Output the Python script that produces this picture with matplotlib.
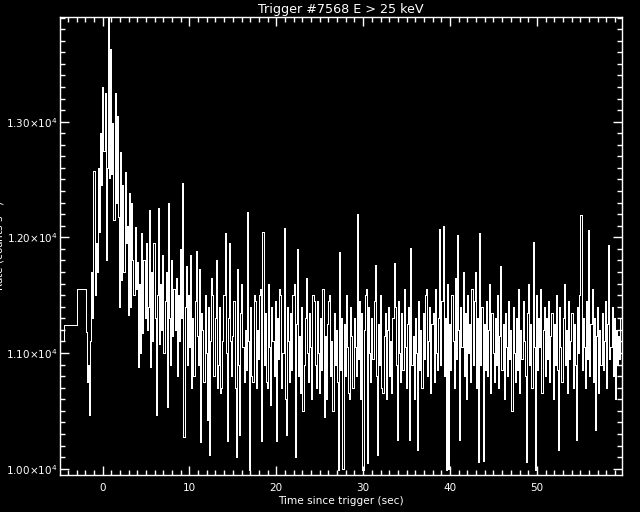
import numpy as np
import matplotlib
matplotlib.use('Agg')
import matplotlib.pyplot as plt
from matplotlib.ticker import MultipleLocator, FuncFormatter

# pre-trigger coarse bins (edges in sec, rates in counts/s)
coarse_edges = [-5.47, -4.45, -2.92, -1.95]
coarse_rates = [11105, 11245, 11555]

# post-trigger bins, 0.128 s each, starting at -1.95 s (one row = 1.024 s)
fine_start = -1.95
fine_width = 0.128
fine_rates = [
    11180, 10750, 10900, 10460, 11100, 11700, 11300, 12570,
    11500, 11950, 11700, 12600, 12050, 12900, 12450, 13300,
    12750, 13250, 11800, 12600, 13905, 12510, 13630, 12550,
    12990, 12150, 13250, 12300, 13050, 12180, 11400, 12740,
    11630, 12450, 11700, 12565, 11950, 12100, 11330, 12380,
    11400, 12300, 11800, 11500, 12090, 11550, 11790, 10880,
    11600, 11000, 12035, 11170, 11800, 11300, 11950, 11200,
    11400, 12236, 10880, 11700, 11100, 11950, 11300, 10460,
    11500, 12250, 11080, 11600, 11200, 11850, 11000, 11450,
    11700, 10530, 12300, 11300, 10900, 11800, 11150, 11550,
    11200, 11650, 10800, 11500, 11100, 11900, 11300, 12470,
    10270, 11400, 11750, 10900, 11500, 11050, 11850, 10700,
    11300, 10800, 11450, 11880, 11150, 10900, 11730, 10230,
    11350, 11200, 10750, 11500, 11000, 10420, 11400, 10115,
    11100, 11650, 11500, 10800, 11300, 11800, 10700, 10900,
    11400, 10650, 10700, 11100, 11500, 12040, 11000, 10240,
    11300, 11950, 11100, 10800, 11150, 11450, 10700, 10100,
    11730, 10900, 10290, 11350, 11600, 11050, 10750, 11200,
    10850, 12220, 11100, 9990, 11400, 10800, 10750, 11500,
    11450, 10700, 11200, 10950, 11500, 11550, 10240, 12050,
    10900, 11350, 10750, 10700, 11600, 11050, 10550, 11400,
    11100, 10800, 11450, 10240, 11300, 10950, 11550, 11500,
    10700, 11000, 12080, 10600, 10290, 11400, 11100, 10750,
    11350, 10850, 11500, 11600, 10100, 11250, 11900, 10800,
    11150, 10650, 11400, 10500, 10900, 11300, 11650, 11000,
    10750, 11350, 11050, 10600, 11500, 11450, 10900, 10700,
    11450, 11000, 10650, 11300, 10850, 11550, 10450, 11150,
    10600, 11250, 11450, 11500, 10800, 11100, 10500, 11350,
    10900, 11200, 10750, 9990, 11870, 10850, 11300, 10000,
    11250, 10800, 11500, 11050, 10650, 10600, 11400, 11150,
    10700, 11300, 11050, 10800, 12200, 10950, 11450, 10600,
    11350, 9990, 11200, 11500, 11550, 10050, 11400, 11000,
    10750, 11300, 10950, 11450, 11760, 10800, 10120, 11250,
    10900, 11500, 10700, 10650, 11150, 11350, 10600, 11200,
    11400, 10800, 11100, 10650, 11300, 11780, 11400, 10900,
    10250, 11450, 11000, 10750, 11350, 10850, 11550, 11050,
    10700, 11250, 11400, 10250, 11910, 10900, 11150, 10600,
    11300, 11000, 10160, 11450, 10850, 11200, 10700, 11350,
    10950, 11500, 11550, 10800, 11100, 11400, 10650, 11250,
    11350, 10750, 11550, 11000, 10850, 11300, 12070, 10900,
    11450, 12100, 10800, 11300, 9990, 11600, 10000, 11250,
    10850, 11500, 11100, 10700, 11650, 10950, 12020, 11200,
    10250, 11400, 11050, 11700, 10800, 11350, 10600, 11500,
    11000, 11250, 10750, 11550, 10900, 11450, 11700, 10700,
    11300, 10060, 12040, 10900, 11400, 10070, 11250, 10850,
    11450, 10800, 11200, 11600, 10650, 11350, 11000, 10750,
    11300, 10900, 11500, 10700, 11150, 11750, 10850, 11250,
    10600, 11350, 11050, 10800, 11450, 10950, 11200, 10500,
    11400, 11000, 10750, 11300, 10850, 11550, 10650, 11200,
    10950, 11450, 11100, 10800, 10060, 11350, 11600, 10900,
    11250, 10700, 11960, 11050, 9990, 11500, 10850, 11300,
    11050, 11550, 10650, 11200, 11400, 10800, 11300, 10950,
    11450, 10750, 11150, 11350, 10600, 11250, 10900, 11500,
    10850, 10160, 11400, 11050, 10750, 11300, 11600, 10900,
    11200, 10650, 11450, 10950, 11100, 11350, 10700, 11250,
    10900, 10250, 11400, 11000, 11500, 12190, 10850, 11300,
    11050, 10700, 11450, 10950, 12060, 10800, 11250, 11550,
    10750, 11300, 10330, 11150, 11400, 10650, 11200, 10900,
    11350, 10850, 11100, 11450, 10700, 11250, 11930, 10950,
    11050, 11400, 10800, 11300, 10600, 11200, 10900, 11150,
    10950, 11300, 11000, 10850, 11200, 11050, 10900, 11100,
]

x_ticks = [0, 10, 20, 30, 40, 50]
y_ticks = [10000, 11000, 12000, 13000]

fine_edges = fine_start + fine_width * np.arange(len(fine_rates) + 1)
edges = np.concatenate([coarse_edges[:-1], fine_edges])
rates = np.concatenate([coarse_rates, fine_rates])

plt.rcParams['font.family'] = ['DejaVu Sans']
fig = plt.figure(figsize=(6.4, 5.12), dpi=100, facecolor='black')
ax = fig.add_axes([60 / 640, 1 - 475 / 512, 562 / 640, 458 / 512])
ax.set_facecolor('black')

# IDL-style crisp 1 px histogram line
ax.stairs(rates, edges, baseline=None, color='white', lw=0.72,
          antialiased=False)

ax.set_xlim(-4.9, 59.8)
ax.set_ylim(9945, 13905)

for s in ax.spines.values():
    s.set_color('white')
    s.set_linewidth(1.0)

ax.xaxis.set_minor_locator(MultipleLocator(1))
ax.yaxis.set_minor_locator(MultipleLocator(100))
ax.set_xticks(x_ticks)
ax.set_yticks(y_ticks)
ax.yaxis.set_major_formatter(FuncFormatter(
    lambda v, p: '%.2f\u00d710$^{4}$' % (v / 1e4)))

ax.tick_params(which='both', direction='in', top=True, right=True,
               colors='white', labelcolor='white', labelsize=7.5, width=1.0)
ax.tick_params(which='major', length=6.5)
ax.tick_params(which='minor', length=3.6)
ax.tick_params(axis='x', pad=6)
ax.tick_params(axis='y', pad=2)

ax.set_title('Trigger #7568 E > 25 keV', color='white', fontsize=9.2, pad=3)
ax.set_xlabel('Time since trigger (sec)', color='white', fontsize=7.6, labelpad=2)
fig.text(0.0, 0.52, 'Rate (counts s$^{-1}$)', rotation=90, color='white',
         fontsize=7.5, ha='center', va='center')

fig.savefig('out.png', dpi=100, facecolor='black')
